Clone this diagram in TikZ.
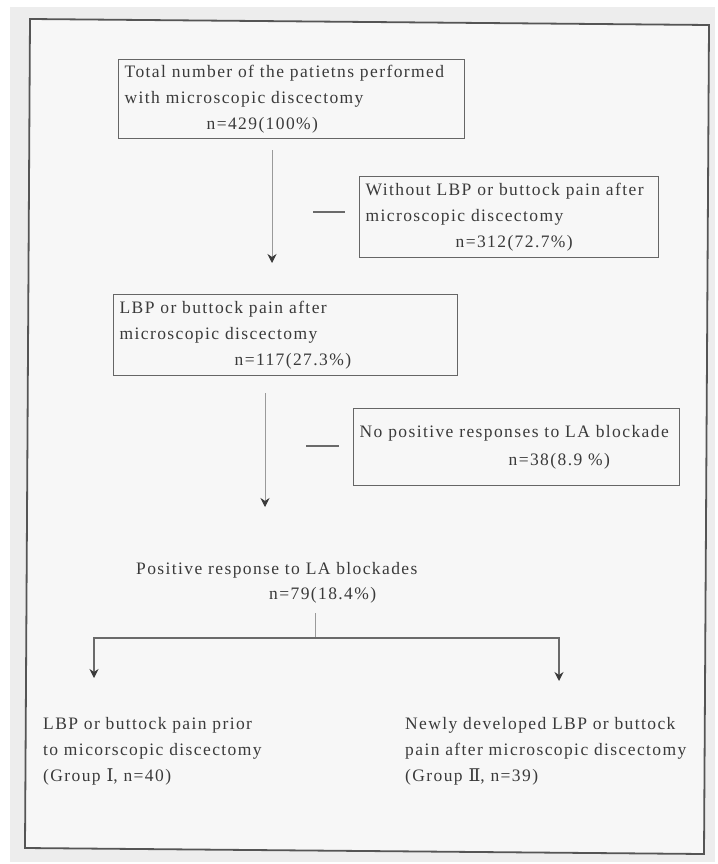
\documentclass[tikz,border=0pt]{standalone}
\usepackage{fontspec}
\setmainfont{Liberation Serif}[LetterSpace=8]
\newfontfamily\numfont{DejaVu Serif}
\usetikzlibrary{arrows.meta,calc}
\definecolor{ink}{HTML}{3A3A3A}
\definecolor{paper}{HTML}{EDEDED}
\definecolor{inside}{HTML}{F7F7F7}
\definecolor{frameline}{HTML}{555555}
\definecolor{boxline}{HTML}{666666}
\definecolor{thinline}{HTML}{9A9A9A}
\definecolor{darkline}{HTML}{6A6A6A}
\begin{document}
\begin{tikzpicture}[x=1pt,y=-1pt,
  txt/.style={text=ink,font=\fontsize{17.5}{26}\selectfont},
  box/.style={txt,draw=boxline,line width=1.3pt,rectangle,anchor=north west,
    inner xsep=6pt,inner ysep=0pt,align=left},
  lbl/.style={txt,anchor=north west,inner sep=0pt,align=left},
  thin/.style={draw=thinline,line width=0.8pt},
  thick/.style={draw=darkline,line width=1.3pt},
  arr/.style={-{Stealth[length=9pt,width=9pt,inset=3pt,color=ink]}}]
\useasboundingbox (0,0) rectangle (717,864);
\fill[white] (0,0) rectangle (717,864);
\fill[paper] (10,7) rectangle (715,862);
\filldraw[fill=inside,draw=frameline,line width=1.8pt]
  (30,19) -- (709,25) -- (704,854) -- (25,848) -- cycle;

\node[box,minimum height=79pt,text width=334pt] (b1) at (118,59)
  {Total number of the patietns performed\\with microscopic discectomy\\\hspace*{82pt}n=429(100\%)};
\node[box,minimum height=81pt,text width=287pt] (b2) at (359,176)
  {Without LBP or buttock pain after\\microscopic discectomy\\\hspace*{90pt}n=312(72.7\%)};
\node[box,minimum height=81pt,text width=332pt] (b3) at (113,294)
  {LBP or buttock pain after\\microscopic discectomy\\\hspace*{115pt}n=117(27.3\%)};
\node[box,minimum height=77pt,text width=314pt,
  font=\fontsize{17.5}{28}\selectfont] (b4) at (353,408)
  {No positive responses to LA blockade\\\hspace*{149pt}n=38(8.9 \%)};
\node[lbl,font=\fontsize{17.5}{25}\selectfont] (pos) at (136,562)
  {Positive response to LA blockades\\\hspace*{133pt}n=79(18.4\%)};
\node[lbl] (g1) at (43,717)
  {LBP or buttock pain prior\\to micorscopic discectomy\\(Group {\numfont Ⅰ}, n=40)};
\node[lbl] (g2) at (405,717)
  {Newly developed LBP or buttock\\pain after microscopic discectomy\\(Group {\numfont Ⅱ}, n=39)};

\coordinate (c1) at (272,263);
\draw[thin,arr,shorten <=11pt] (b1.south -| c1) -- (c1);
\coordinate (d1) at (313,212);
\draw[thick,shorten >=14pt] (d1) -- (d1 -| b2.west);
\coordinate (c2) at (265,507);
\draw[thin,arr,shorten <=17pt] (b3.south -| c2) -- (c2);
\coordinate (d2) at (306,446);
\draw[thick,shorten >=14pt] (d2) -- (d2 -| b4.west);
\coordinate (br) at (315,638);
\draw[thin,shorten <=10pt] (pos.south -| br) -- (br);
\coordinate (tl) at (94,678);
\coordinate (tr) at (559,681);
\draw[thick,arr] (br) -| (tl);
\draw[thick,arr] (br) -| (tr);
\end{tikzpicture}
\end{document}
